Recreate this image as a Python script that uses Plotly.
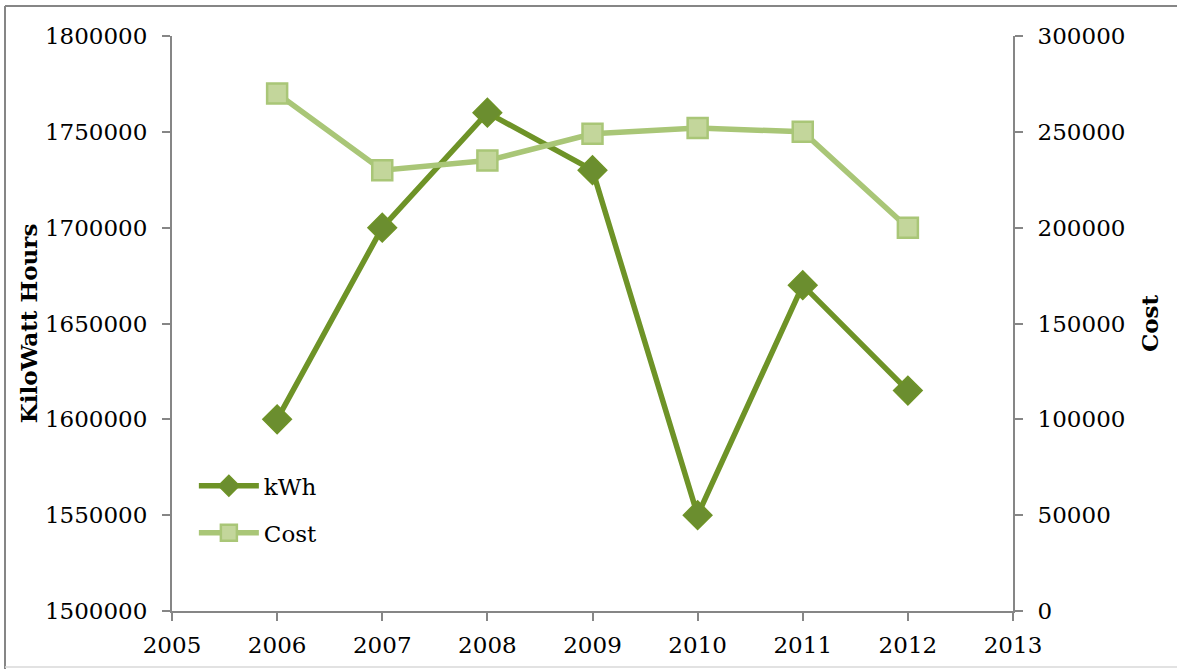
import plotly.graph_objects as go

years = [2006, 2007, 2008, 2009, 2010, 2011, 2012]
kwh = [1600000, 1700000, 1760000, 1730000, 1550000, 1670000, 1615000]
cost = [270000, 230000, 235000, 249000, 252000, 250000, 200000]

FONT = "DejaVu Serif"
AXC = "#868686"
FS = 23

fig = go.Figure()
fig.add_trace(go.Scatter(
    x=years, y=kwh, name="kWh", mode="lines+markers", legendgroup="a",
    line=dict(color="#6E9327", width=5.5),
    marker=dict(symbol="diamond", size=22, color="#6B8E2F",
                line=dict(color="#6E9327", width=1.5)),
    yaxis="y"))
fig.add_trace(go.Scatter(
    x=years, y=cost, name="Cost", mode="lines+markers", legendgroup="b",
    line=dict(color="#A9C677", width=5.5),
    marker=dict(symbol="square", size=20, color="#C3D69B",
                line=dict(color="#A9C677", width=2.5)),
    yaxis="y2"))

def px(x):
    return (x - 172) / 841

def py(y):
    return (611 - y) / 575

fig.update_layout(
    width=1177, height=669,
    margin=dict(l=172, r=164, t=36, b=58),
    paper_bgcolor="white", plot_bgcolor="white",
    font=dict(family=FONT, size=FS, color="black"),
    showlegend=True,
    legend=dict(x=0.026, y=0.255, xanchor="left", yanchor="top",
                bgcolor="rgba(0,0,0,0)", font=dict(family=FONT, size=FS),
                itemwidth=60, tracegroupgap=14),
    xaxis=dict(range=[2005, 2013], dtick=1, tick0=2005, showgrid=False,
               zeroline=False, showline=True, linecolor=AXC, linewidth=2,
               ticks="outside", tickcolor=AXC, tickwidth=2, ticklen=8,
               ticklabelstandoff=4,
               tickfont=dict(family=FONT, size=FS)),
    yaxis=dict(range=[1500000, 1800000], dtick=50000, showgrid=False,
               zeroline=False, showline=True, linecolor=AXC, linewidth=2,
               ticks="outside", tickcolor=AXC, tickwidth=2, ticklen=8,
               ticklabelstandoff=10,
               tickformat="d", tickfont=dict(family=FONT, size=FS),
               title=dict(text="<b>KiloWatt Hours</b>",
                          font=dict(family=FONT, size=FS), standoff=1)),
    yaxis2=dict(range=[0, 300000], dtick=50000, overlaying="y", side="right",
                showgrid=False, zeroline=False, showline=True, linecolor=AXC,
                linewidth=2, ticks="outside", tickcolor=AXC, tickwidth=2,
                ticklen=8, ticklabelstandoff=10,
                tickformat="d", tickfont=dict(family=FONT, size=FS),
                title=dict(text="<b>Cost</b>", font=dict(family=FONT, size=FS),
                           standoff=17)),
    shapes=[
        dict(type="line", xref="paper", yref="paper",
             x0=px(5), x1=px(5), y0=py(669), y1=py(6),
             line=dict(color=AXC, width=2), layer="below"),
        dict(type="line", xref="paper", yref="paper",
             x0=px(5), x1=px(1177), y0=py(6), y1=py(6),
             line=dict(color=AXC, width=2), layer="below"),
        dict(type="line", xref="paper", yref="paper",
             x0=px(5), x1=px(1177), y0=py(667), y1=py(667),
             line=dict(color="#D9D9D9", width=1.5), layer="below"),
    ],
)

fig.write_html("out.html", config={"displayModeBar": False},
               post_script="document.body.style.margin='0';document.body.style.overflow='hidden';")
